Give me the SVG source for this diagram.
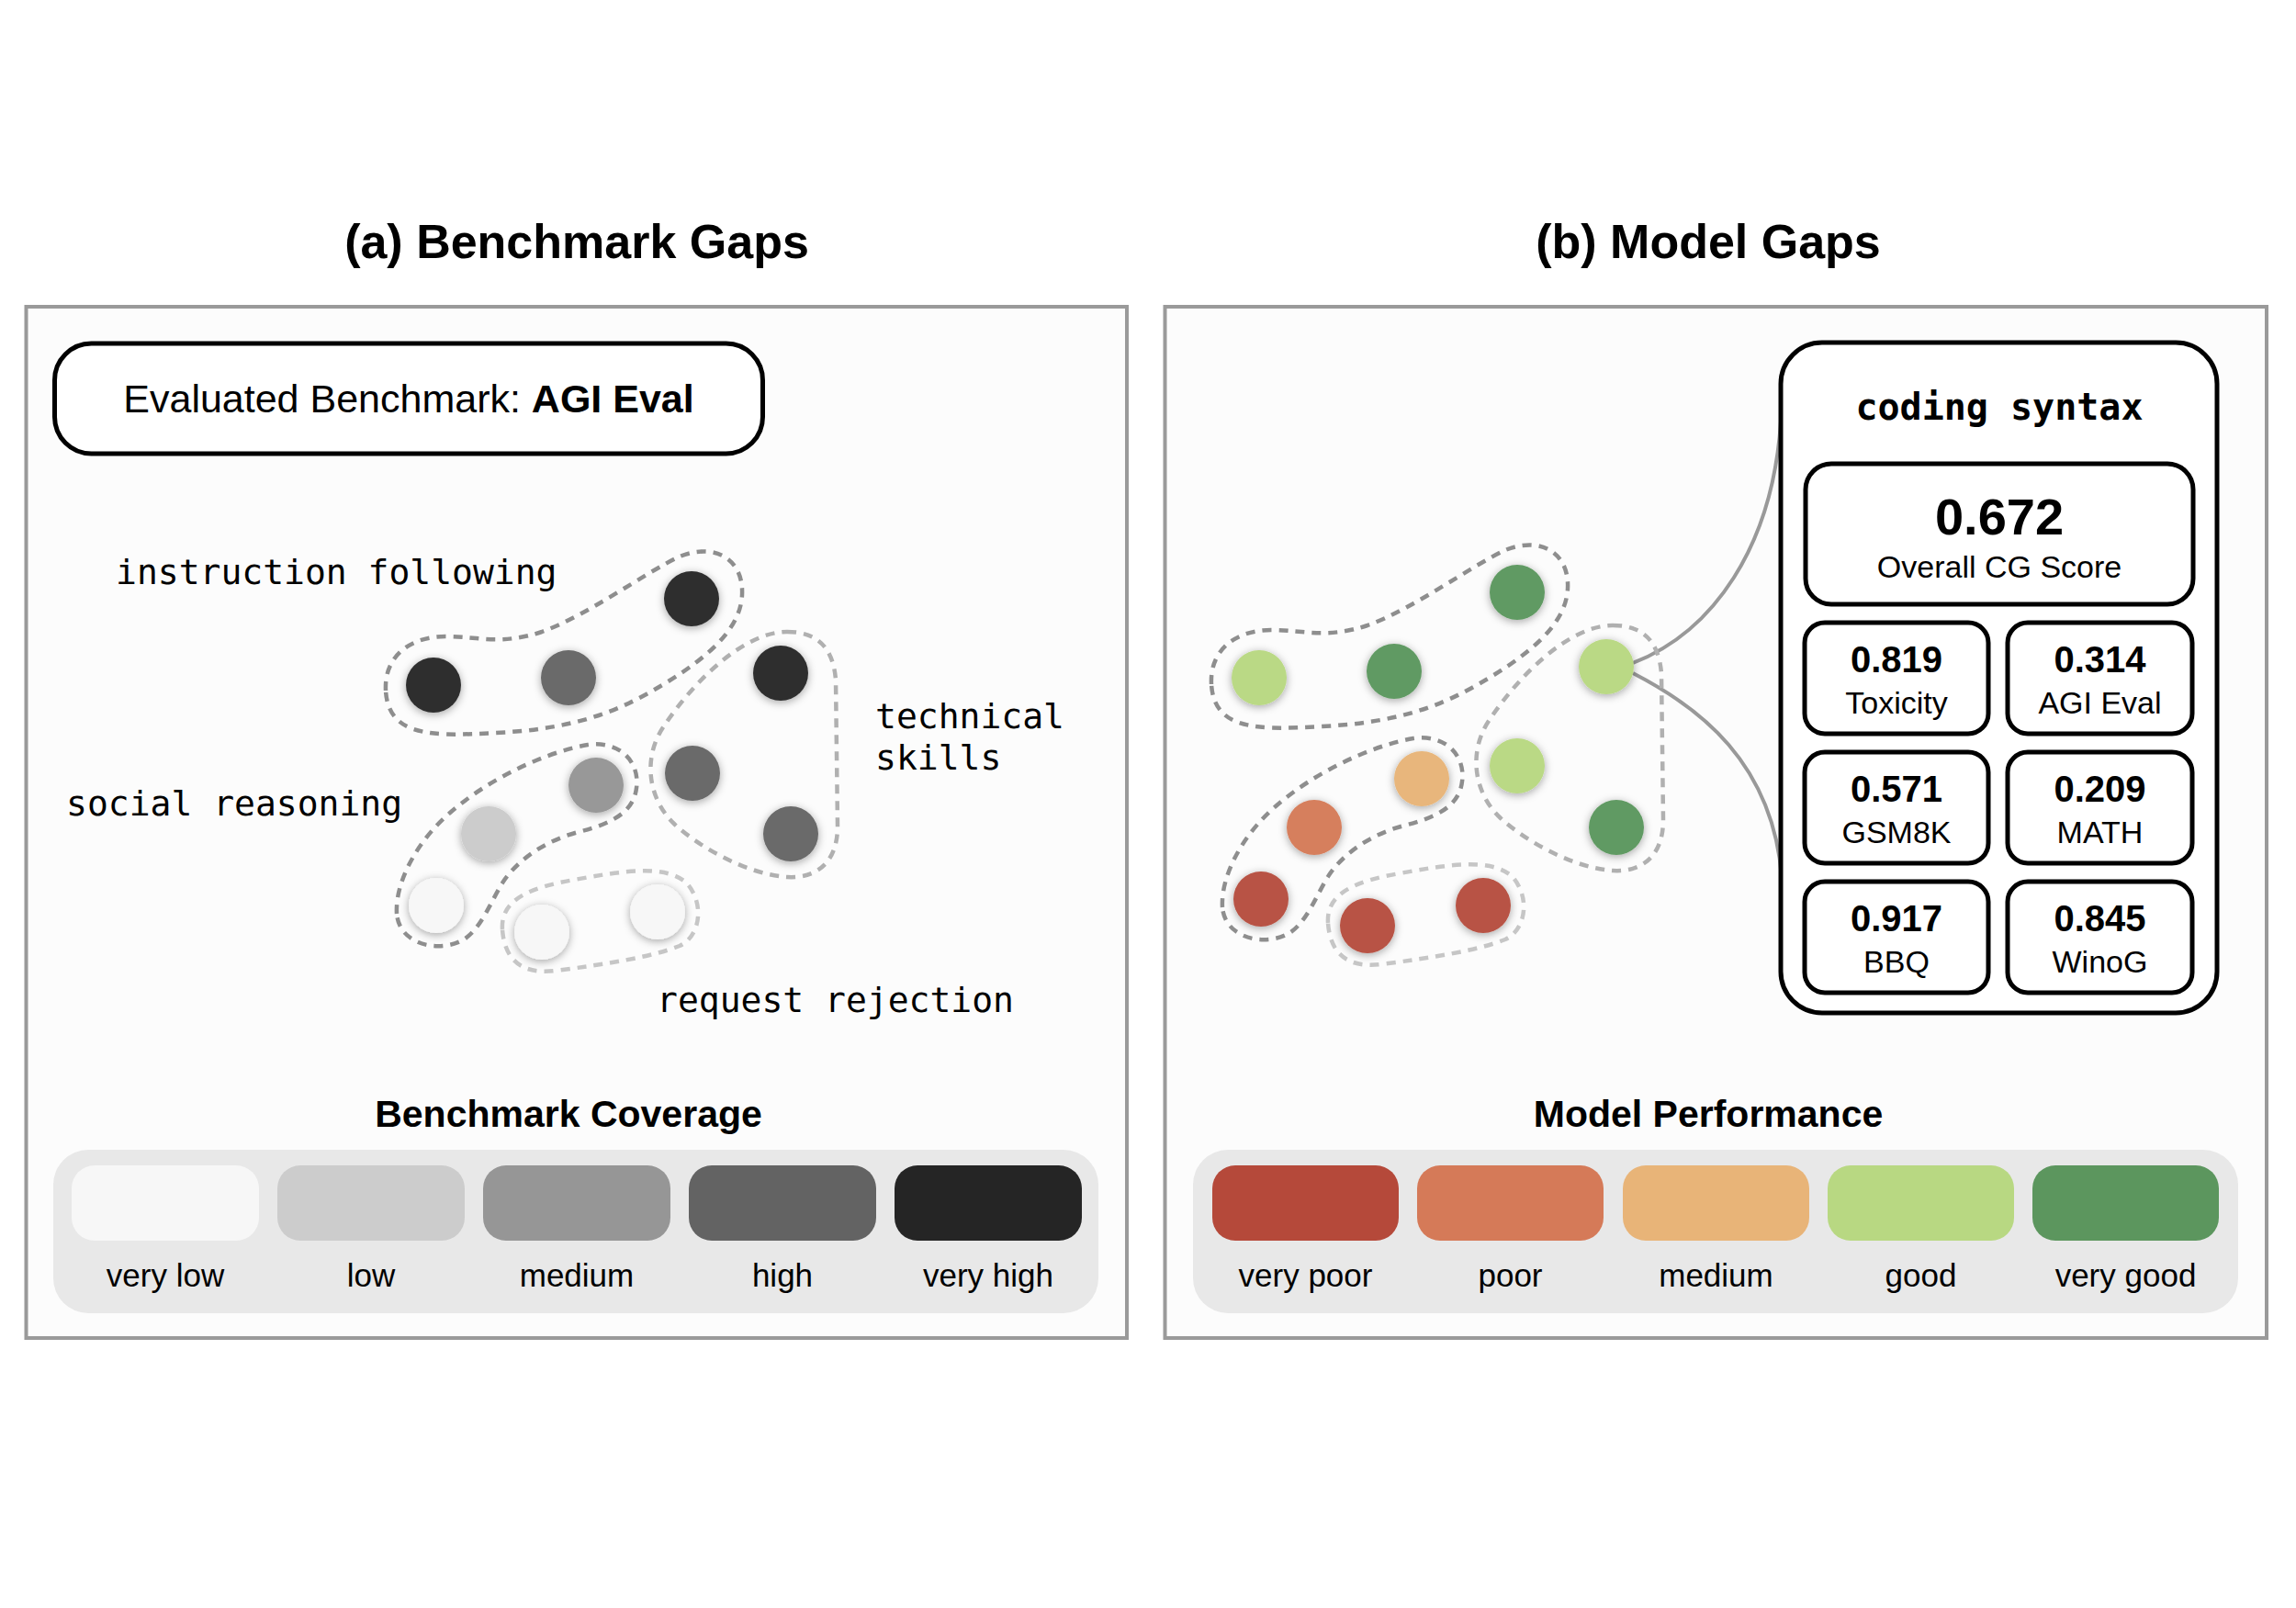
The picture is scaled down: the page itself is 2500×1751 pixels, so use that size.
<svg xmlns="http://www.w3.org/2000/svg" width="2500" height="1751" viewBox="0 0 2500 1751">
<defs>
<style>
.frame{fill:#fcfcfc;stroke:#9a9a9a;stroke-width:4}
.title{font-family:"Liberation Sans",Arial,sans-serif;font-weight:bold;font-size:52px;fill:#000;text-anchor:middle}
.sub{font-family:"Liberation Sans",Arial,sans-serif;font-weight:bold;font-size:41px;fill:#000;text-anchor:middle}
.mono{font-family:"DejaVu Sans Mono",monospace;font-size:38px;fill:#000}
.lbl{font-family:"Liberation Sans",Arial,sans-serif;font-size:35px;fill:#000;text-anchor:middle}
.box{fill:#fff;stroke:#000;stroke-width:5}
.num{font-family:"Liberation Sans",Arial,sans-serif;font-weight:bold;font-size:40px;fill:#000;text-anchor:middle}
.big{font-size:56px}
.met{font-family:"Liberation Sans",Arial,sans-serif;font-size:34px;fill:#000;text-anchor:middle}
.d1{fill:none;stroke:#8e8e8e;stroke-width:4.5;stroke-dasharray:10 8}
.d2{fill:none;stroke:#b0b0b0;stroke-width:4.5;stroke-dasharray:10 8}
.d3{fill:none;stroke:#c6c6c6;stroke-width:4.5;stroke-dasharray:10 8}
.dot{filter:url(#sh)}
.conn{fill:none;stroke:#999;stroke-width:4}
</style>
<filter id="sh" x="-50%" y="-50%" width="200%" height="200%">
<feDropShadow dx="0" dy="2" stdDeviation="5" flood-color="#000" flood-opacity="0.35"/>
</filter>
</defs>
<rect width="2500" height="1751" fill="#fff"/>

<text class="title" x="628" y="281">(a) Benchmark Gaps</text>
<text class="title" x="1860" y="281">(b) Model Gaps</text>

<g id="panel-a">
<rect class="frame" x="28.5" y="334" width="1198.5" height="1123"/>
</g>
<g id="panel-b">
<rect class="frame" x="1268.5" y="334" width="1199.5" height="1123"/>
</g>

<g id="eval-benchmark">
<rect class="box" x="59.5" y="374" width="771" height="120" rx="40"/>
<text x="445" y="449" font-family="Liberation Sans, Arial, sans-serif" font-size="43" text-anchor="middle">Evaluated Benchmark: <tspan font-weight="bold">AGI Eval</tspan></text>
</g>

<g id="cluster-labels">
<text class="mono" x="126" y="636">instruction following</text>
<text class="mono" x="72" y="888">social reasoning</text>
<text class="mono" x="953" y="793">technical</text>
<text class="mono" x="953" y="838">skills</text>
<text class="mono" x="715" y="1102">request rejection</text>
</g>

<g id="outlines-a">
<path class="d1" d="M 420,752 C 418,712 450,693 485,693 C 520,693 545,703 590,688 C 640,670 700,625 740,606 C 780,590 810,610 808,648 C 806,690 760,725 700,758 C 650,785 600,795 540,798 C 500,800 470,802 445,792 C 428,784 421,770 420,752 Z"/>
<path class="d1" d="M 432,995 C 430,960 455,915 490,885 C 530,850 590,820 640,811 C 675,806 697,830 693,858 C 690,885 665,897 630,906 C 595,915 565,935 548,960 C 535,980 525,1010 505,1023 C 480,1038 435,1030 432,995 Z"/>
<path class="d2" d="M 857,688 C 890,688 907,705 910,740 L 912,900 C 912,938 890,957 857,955 C 815,952 765,925 735,898 C 705,870 700,825 722,792 C 755,742 810,688 857,688 Z"/>
<path class="d3" d="M 547,1012 C 545,980 575,967 625,958 C 675,949 725,940 748,962 C 768,985 762,1020 740,1030 C 710,1042 660,1050 605,1057 C 565,1062 549,1042 547,1012 Z"/>
</g>

<g id="dots-a">
<circle class="dot" cx="472" cy="746" r="30" fill="#2f2f2f"/>
<circle class="dot" cx="619" cy="738" r="30" fill="#6a6a6a"/>
<circle class="dot" cx="753" cy="652" r="30" fill="#2f2f2f"/>
<circle class="dot" cx="850" cy="733" r="30" fill="#2f2f2f"/>
<circle class="dot" cx="649" cy="855" r="30" fill="#989898"/>
<circle class="dot" cx="754" cy="842" r="30" fill="#6a6a6a"/>
<circle class="dot" cx="861" cy="908" r="30" fill="#6a6a6a"/>
<circle class="dot" cx="532" cy="908" r="30" fill="#cccccc"/>
<circle class="dot" cx="475" cy="986" r="30" fill="#f7f7f7"/>
<circle class="dot" cx="590" cy="1015" r="30" fill="#f7f7f7"/>
<circle class="dot" cx="716" cy="993" r="30" fill="#f7f7f7"/>
</g>

<g id="connectors">
<path class="conn" d="M 1778,722 C 1860,690 1935,600 1940,440"/>
<path class="conn" d="M 1778,733 C 1850,770 1930,830 1940,955"/>
</g>

<g id="outlines-b" transform="translate(899,-7)">
<path class="d1" d="M 420,752 C 418,712 450,693 485,693 C 520,693 545,703 590,688 C 640,670 700,625 740,606 C 780,590 810,610 808,648 C 806,690 760,725 700,758 C 650,785 600,795 540,798 C 500,800 470,802 445,792 C 428,784 421,770 420,752 Z"/>
<path class="d1" d="M 432,995 C 430,960 455,915 490,885 C 530,850 590,820 640,811 C 675,806 697,830 693,858 C 690,885 665,897 630,906 C 595,915 565,935 548,960 C 535,980 525,1010 505,1023 C 480,1038 435,1030 432,995 Z"/>
<path class="d2" d="M 857,688 C 890,688 907,705 910,740 L 912,900 C 912,938 890,957 857,955 C 815,952 765,925 735,898 C 705,870 700,825 722,792 C 755,742 810,688 857,688 Z"/>
<path class="d3" d="M 547,1012 C 545,980 575,967 625,958 C 675,949 725,940 748,962 C 768,985 762,1020 740,1030 C 710,1042 660,1050 605,1057 C 565,1062 549,1042 547,1012 Z"/>
</g>

<g id="dots-b">
<circle class="dot" cx="1371" cy="738" r="30" fill="#bad985"/>
<circle class="dot" cx="1518" cy="731" r="30" fill="#619a63"/>
<circle class="dot" cx="1652" cy="645" r="30" fill="#619a63"/>
<circle class="dot" cx="1749" cy="726" r="30" fill="#bad985"/>
<circle class="dot" cx="1548" cy="848" r="30" fill="#e8b67b"/>
<circle class="dot" cx="1652" cy="834" r="30" fill="#bad985"/>
<circle class="dot" cx="1760" cy="901" r="30" fill="#619a63"/>
<circle class="dot" cx="1431" cy="901" r="30" fill="#d67f5d"/>
<circle class="dot" cx="1373" cy="979" r="30" fill="#b85344"/>
<circle class="dot" cx="1489" cy="1008" r="30" fill="#b85344"/>
<circle class="dot" cx="1615" cy="986" r="30" fill="#b85344"/>
</g>

<g id="coding-syntax">
<rect class="box" x="1939" y="373" width="475" height="730" rx="45"/>
<text x="2177" y="457" font-family="DejaVu Sans Mono, monospace" font-weight="bold" font-size="40" text-anchor="middle">coding syntax</text>
</g>
<g id="overall-score">
<rect class="box" x="1966" y="505" width="422" height="153" rx="28"/>
<text class="num big" x="2177" y="582">0.672</text>
<text class="met" x="2177" y="629">Overall CG Score</text>
</g>
<g id="toxicity">
<rect class="box" x="1965" y="678" width="200" height="121" rx="22"/>
<text class="num" x="2065" y="732">0.819</text>
<text class="met" x="2065" y="777">Toxicity</text>
</g>
<g id="agieval">
<rect class="box" x="2186" y="678" width="201" height="121" rx="22"/>
<text class="num" x="2286.5" y="732">0.314</text>
<text class="met" x="2286.5" y="777">AGI Eval</text>
</g>
<g id="gsm8k">
<rect class="box" x="1965" y="819" width="200" height="121" rx="22"/>
<text class="num" x="2065" y="873">0.571</text>
<text class="met" x="2065" y="918">GSM8K</text>
</g>
<g id="math">
<rect class="box" x="2186" y="819" width="201" height="121" rx="22"/>
<text class="num" x="2286.5" y="873">0.209</text>
<text class="met" x="2286.5" y="918">MATH</text>
</g>
<g id="bbq">
<rect class="box" x="1965" y="960" width="200" height="121" rx="22"/>
<text class="num" x="2065" y="1014">0.917</text>
<text class="met" x="2065" y="1059">BBQ</text>
</g>
<g id="winog">
<rect class="box" x="2186" y="960" width="201" height="121" rx="22"/>
<text class="num" x="2286.5" y="1014">0.845</text>
<text class="met" x="2286.5" y="1059">WinoG</text>
</g>

<g id="legend-coverage">
<text class="sub" x="619" y="1227">Benchmark Coverage</text>
<rect x="58" y="1252" width="1138" height="178" rx="38" fill="#e8e8e8"/>
<rect x="78" y="1269" width="204" height="82" rx="25" fill="#f7f7f7"/>
<rect x="302" y="1269" width="204" height="82" rx="25" fill="#cccccc"/>
<rect x="526" y="1269" width="204" height="82" rx="25" fill="#969696"/>
<rect x="750" y="1269" width="204" height="82" rx="25" fill="#636363"/>
<rect x="974" y="1269" width="204" height="82" rx="25" fill="#252525"/>
<text class="lbl" x="180" y="1401">very low</text>
<text class="lbl" x="404" y="1401">low</text>
<text class="lbl" x="628" y="1401">medium</text>
<text class="lbl" x="852" y="1401">high</text>
<text class="lbl" x="1076" y="1401">very high</text>
</g>

<g id="legend-performance">
<text class="sub" x="1860" y="1227">Model Performance</text>
<rect x="1299" y="1252" width="1138" height="178" rx="38" fill="#e8e8e8"/>
<rect x="1320" y="1269" width="203" height="82" rx="25" fill="#b5493a"/>
<rect x="1543" y="1269" width="203" height="82" rx="25" fill="#d57a58"/>
<rect x="1767" y="1269" width="203" height="82" rx="25" fill="#e8b478"/>
<rect x="1990" y="1269" width="203" height="82" rx="25" fill="#b8d882"/>
<rect x="2213" y="1269" width="203" height="82" rx="25" fill="#5c965e"/>
<text class="lbl" x="1421.5" y="1401">very poor</text>
<text class="lbl" x="1644.5" y="1401">poor</text>
<text class="lbl" x="1868.5" y="1401">medium</text>
<text class="lbl" x="2091.5" y="1401">good</text>
<text class="lbl" x="2314.5" y="1401">very good</text>
</g>
</svg>
